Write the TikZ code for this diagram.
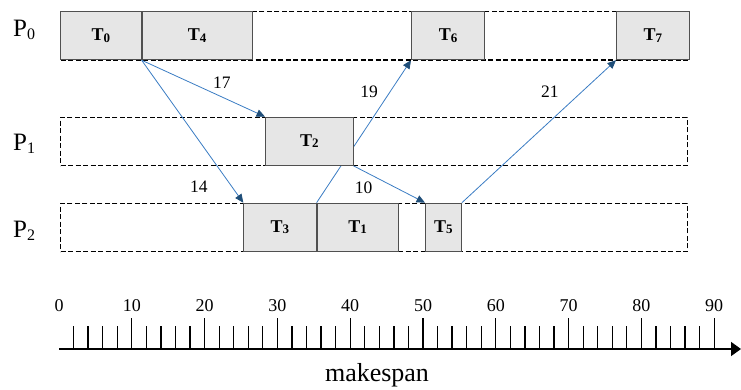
\documentclass[tikz,border=0pt]{standalone}
\usepackage{fontspec}
\setmainfont{Liberation Serif}
\usetikzlibrary{positioning, arrows.meta, backgrounds}
\definecolor{taskfill}{HTML}{E6E6E6}
\definecolor{taskline}{HTML}{505050}
\definecolor{depline}{HTML}{3A7CC3}
\definecolor{deptip}{HTML}{1F4E79}
\newcommand{\procname}[1]{P\raisebox{-2.5pt}{\fontsize{16}{16}\selectfont #1}}
\newcommand{\taskname}[1]{\textbf{T}\raisebox{-1.5pt}{\fontsize{13}{13}\selectfont\bfseries #1}}

\begin{document}
\begin{tikzpicture}[
    x=1pt, y=-1pt,
    slot/.style={draw, dash pattern=on 5pt off 2.5pt, line width=1.3pt, minimum height=48.3pt,
                 inner sep=0pt, anchor=north west},
    task/.style={draw=taskline, fill=taskfill, line width=0.9pt, minimum height=48.3pt,
                 inner sep=0pt, anchor=north west, font=\fontsize{18}{20}\selectfont},
    proc/.style={font=\fontsize{25}{28}\selectfont, inner sep=0pt, anchor=base west},
    dep/.style={-{Triangle[length=8.5pt, width=7.5pt, color=deptip]}, draw=depline, line width=0.8pt},
    weight/.style={font=\fontsize{17.5}{20}\selectfont, inner sep=1pt},
    axisline/.style={-{Triangle[length=10pt, width=14pt]}, line width=1.6pt},
    marktick/.style={line width=1.3pt},
    ticknum/.style={font=\fontsize{18}{20}\selectfont, inner sep=0pt, anchor=base},
]
\useasboundingbox (0,0) rectangle (741,390);

% Processor rows (idle time dashed)
\node[slot, minimum width=629pt] (row0) at (60,11) {};
\node[slot, minimum width=626.7pt] (row1) at (60,116.7) {};
\node[slot, minimum width=626.7pt] (row2) at (60,202.7) {};

\node[proc] (p0) at (13,36.7) {\procname{0}};
\node[proc] (p1) at (13,151) {\procname{1}};
\node[proc] (p2) at (13,237.5) {\procname{2}};

% Tasks
\node[task, minimum width=80.7pt] (t0) at (60,11) {\taskname{0}};
\node[task, minimum width=110pt, right=0pt of t0] (t4) {\taskname{4}};
\node[task, minimum width=73.3pt] (t6) at (411,11) {\taskname{6}};
\node[task, minimum width=73pt] (t7) at (616,11) {\taskname{7}};
\node[task, minimum width=87.7pt] (t2) at (265,116.7) {\taskname{2}};
\node[task, minimum width=72.4pt] (t3) at (243.3,202.7) {\taskname{3}};
\node[task, minimum width=81pt, right=0pt of t3] (t1) {\taskname{1}};
\node[task, minimum width=36pt] (t5) at (425,202.7) {\taskname{5}};

% Communication edges
\begin{scope}[on background layer]
  \draw[dep] (t1.north west) -- (t6.south west) node[weight, pos=0.78, left=11pt] {19};
\end{scope}
\draw[dep] (t0.south east) -- (t2.north west) node[weight, pos=0.65, above=7pt] {17};
\draw[dep] (t0.south east) -- (t3.north west) node[weight, pos=0.89, left=23pt] {14};
\draw[dep] (t2.south east) -- (t5.north west) node[weight, pos=0.14, below=9pt] {10};
\draw[dep] (t5.north east) -- (t7.south west) node[weight, pos=0.78, left=22pt] {21};

% Time axis
\coordinate (origin) at (59,349);
\coordinate (tip) at (741,349);
\draw[axisline] (origin) -- (tip);
\foreach \t in {2,4,...,90}
  \draw[marktick] ({59+7.28*\t},349) -- ++(0,-23.3);
\foreach \t in {10,20,...,90}
  \draw[marktick] ({59+7.28*\t},349) -- ++(0,-31.3);
\foreach \t in {0,10,...,90}
  \node[ticknum] (num\t) at ({59+7.28*\t},311) {\t};
\node[font=\fontsize{26}{28}\selectfont, inner sep=0pt, anchor=base] (span) at (377,381.7) {makespan};

\end{tikzpicture}
\end{document}
